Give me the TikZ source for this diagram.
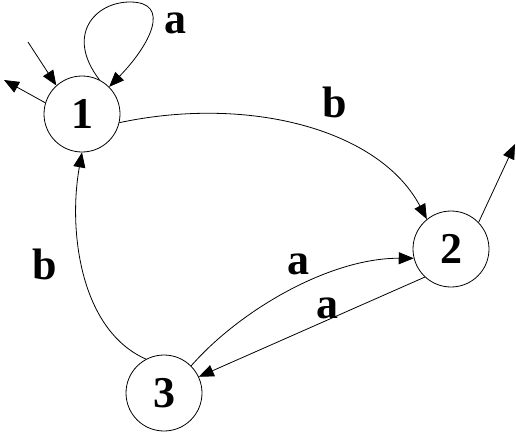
\documentclass[tikz,border=0pt]{standalone}
\usepackage{fontspec}
\setmainfont{Liberation Serif}
\usetikzlibrary{arrows.meta}
\begin{document}
\begin{tikzpicture}[x=1pt,y=-1pt,
  state/.style={draw,circle,minimum size=76pt,inner sep=0pt,line width=0.8pt,font=\fontsize{44}{44}\selectfont\bfseries},
  lbl/.style={font=\fontsize{44}{44}\selectfont\bfseries,inner sep=0pt},
  edge/.style={draw,line width=0.8pt,-{Triangle[length=15pt,width=12pt]}}]
\useasboundingbox (0,0) rectangle (516,432);
\node[state] (n1) at (82,114) {1};
\node[state] (n2) at (451,249) {2};
\node[state] (n3) at (164,393) {3};
\coordinate (i1) at (28,42);
\coordinate (f1) at (4,80);
\coordinate (f2) at (515,144);
\draw[edge] (i1) -- (n1.132);
\draw[edge] (n1.163) -- (f1);
\draw[edge] (n2.44) -- (f2);
\draw[edge] (n1.63) .. controls (65,35) and (95,2) .. (130,2) .. controls (172,2) and (150,45) .. (n1.45);
\node[lbl] (la) at (175,23) {a};
\draw[edge] (n1.-13) .. controls (250,95) and (380,130) .. (n2.129);
\node[lbl] (lb1) at (335,102) {b};
\draw[edge] (n3.45) .. controls (240,310) and (330,258) .. (n2.194);
\node[lbl] (la2) at (298,264) {a};
\draw[edge] (n2.227) -- (n3.25);
\node[lbl] (la3) at (327,308) {a};
\draw[edge] (n3.118) .. controls (80,330) and (68,230) .. (n1.south);
\node[lbl] (lb2) at (45,264) {b};
\end{tikzpicture}
\end{document}
